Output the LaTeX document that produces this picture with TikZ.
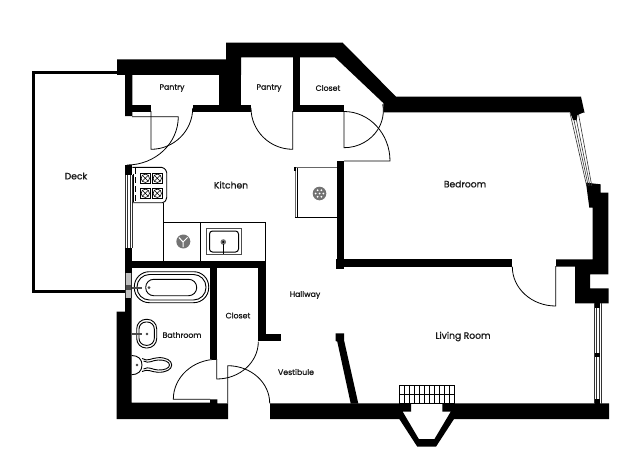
\documentclass[tikz,border=0pt]{standalone}
\usepackage{fontspec}
\setmainfont{Poppins}[FakeBold=1]
\tikzset{
  wall/.style={fill=black,draw=none},
  door/.style={draw=black,line width=0.8pt},
  fixture/.style={draw=black,line width=0.9pt},
  pane/.style={draw=black!80,line width=0.6pt},
  room/.style={font=\fontsize{9.2}{10}\selectfont,inner sep=0pt,text=black!90},
  smallroom/.style={font=\fontsize{7.8}{9}\selectfont,inner sep=0pt,text=black!90},
}
\begin{document}
\begin{tikzpicture}[x=1pt,y=-1pt]
\useasboundingbox (0,0) rectangle (640,460);
\fill[white] (0,0) rectangle (640,460);
% Deck
\draw[line width=3pt,line join=miter] (120,72.7) -- (33,72.7) -- (33,291.8) -- (126,291.8);
% Walls
\fill[wall] (117,59.5) -- (226,59.5) -- (226,42.7) -- (342.7,42.7) -- (396,96.7) -- (581,96.7) -- (584.5,112.5) -- (383.3,112.3) -- (383.3,103) -- (335,57.3) -- (241,57.3) -- (241,75) -- (132.3,75) -- (132.3,116) -- (125,116) -- (125,75) -- (117,75) -- cycle;
\fill[wall] (218.7,75) rectangle (241,111.7);
\fill[wall] (125,104.7) rectangle (151,111.7);
\fill[wall] (192.7,104.7) rectangle (251,111.7);
\fill[wall] (293.3,57.3) rectangle (300.3,111.7);
\fill[wall] (293.3,104.7) rectangle (344,111.7);
\fill[wall] (125,165) rectangle (131.7,175);
\fill[wall] (336.7,161) rectangle (344,269.3);
\fill[wall] (336,259.3) rectangle (512.3,266.7);
\fill[wall] (336,262) rectangle (344,269.3);
\fill[wall] (586,182.7) -- (600.7,184.3) -- (600.7,192.7) -- (608.3,192.7) -- (608.3,274.3) -- (590,274.3) -- (590,288.3) -- (608.7,288.3) -- (608.7,303.3) -- (575,303.3) -- (575,266.7) -- (556,266.7) -- (556,259.3) -- (592.7,259.3) -- (592.7,207.7) -- (589.3,207.7) -- cycle;
\fill[wall] (125,248) rectangle (131.7,273.3);
\fill[wall] (125,260.7) rectangle (265.7,267.7);
\fill[wall] (258.3,260.7) rectangle (265.7,340.7);
\fill[wall] (258.3,334.3) rectangle (281,340.7);
\fill[wall] (210,267) rectangle (217.3,359.3);
\fill[wall] (125,298) -- (131.7,298) -- (131.7,402.7) -- (210,402.7) -- (210,399.3) -- (217.3,399.3) -- (217.3,403.3) -- (228,403.3) -- (228,419) -- (116.7,419) -- (116.7,311.7) -- (125,311.7) -- cycle;
\fill[wall] (270,403.3) -- (411,403.3) -- (411,411.7) -- (402.7,411.7) -- (418.8,439) -- (434.5,439) -- (450.7,411.7) -- (442.3,411.7) -- (442.3,403.3) -- (609,403.3) -- (609,419) -- (454,419) -- (436,446.7) -- (417.3,446.7) -- (399.3,419) -- (270,419) -- cycle;
\fill[wall] (335.7,333.3) -- (344,333.3) -- (344,340) -- (358.3,403.5) -- (350.7,403.5) -- (337.3,341.7) -- (335.7,341) -- cycle;
% Windows
\foreach \t/\b in {570/586.7,572.4/588.3,575/590,578.3/591.8}
  \draw[pane] (\t,113) -- (\b,186);
\fill[wall] (570,112) -- (584.5,112) -- (577.5,115) -- (576.5,120) -- (573,120) -- cycle;
\foreach \x in {594,596,599.5,601.7}
  \draw[pane] (\x,303) -- (\x,403.5);
\fill[wall] (595,303) rectangle (600,307.7);
\fill[wall] (595,353.3) rectangle (600,357.3);
\fill[wall] (595,399) rectangle (600,403.5);
\foreach \x in {125.4,127.6,130,131.8}
  \draw[pane] (\x,175) -- (\x,248);
\fill[black!25] (125,273.3) rectangle (131.7,298);
\draw[draw=black!85,line width=0.8pt] (125.4,273.3) -- (125.4,298) (131.3,273.3) -- (131.3,298);
\fill[black!70] (126,285) rectangle (131,290);
% Doors
\draw[door] (132,116.7) -- (178.3,116.7) arc[start angle=0,end angle=90,x radius=51.3,y radius=48.3];
\draw[door] (151,111) -- (151,149.3) arc[start angle=90,end angle=0,x radius=41.7,y radius=41.3];
\draw[door] (292.8,111) -- (292.8,149.3) arc[start angle=90,end angle=180,x radius=41.8,y radius=41.3];
\draw[door] (344,111) -- (344,147.7) arc[start angle=90,end angle=-10,x radius=39.3,y radius=37];
\draw[door] (344,161) -- (390,161) arc[start angle=0,end angle=-90,x radius=46,y radius=49.5];
\draw[door] (555.7,266) -- (555.7,306) arc[start angle=90,end angle=180,x radius=43.4,y radius=39.3];
\draw[door] (210,399.3) -- (173.3,399.3) arc[start angle=180,end angle=270,x radius=43.7,y radius=40];
\draw[door] (216.7,359) -- (216.7,379) arc[start angle=90,end angle=0,x radius=41.6,y radius=37.3];
\draw[door] (227.7,403.3) -- (227.7,365.7) arc[start angle=-90,end angle=0,x radius=42,y radius=37.6];
% Counter
\draw[fixture] (163.7,202.7) -- (163.7,260.7) (163.7,222.7) -- (265.3,222.7) -- (265.3,260.7) (200.5,222.7) -- (200.5,260.7);
% Stove
\draw[fixture,rounded corners=1.5pt] (132.3,167.3) -- (163,167.3) -- (166.7,171) -- (166.7,199) -- (164,202.7) -- (132.3,202.7);
\draw[line width=1pt,dash pattern=on 6pt off 3pt] (135.3,168) -- (135.3,202);
\draw[line width=0.7pt] (133,173.5) -- (133,202);
\foreach \cx in {145.3,157.3}
  \foreach \cy in {178.3,193.3} {
    \draw[line width=0.6pt] (\cx-5.2,\cy-5.2) rectangle (\cx+5.2,\cy+5.2);
    \draw[line width=0.6pt] (\cx,\cy) circle[radius=4.2];
    \draw[line width=0.5pt] (\cx-3,\cy-3) -- (\cx+3,\cy+3) (\cx-3,\cy+3) -- (\cx+3,\cy-3);
  }
% Disposal circle and sink
\fill[black!55] (183.3,241.5) circle[radius=7];
\draw[white,line width=1pt] (179,237.5) -- (183,242) -- (187.5,237.5) (183,242) -- (183,247);
\draw[black!70,line width=1pt] (206.7,228.3) rectangle (241.3,254.7);
\draw[fixture,rounded corners=3pt,line width=1pt] (209.5,231) rectangle (238.5,252);
\fill[black!55] (223.3,242) circle[radius=2.8];
\fill[black] (223.3,242) circle[radius=1.1];
\draw[line width=1.2pt] (223.3,244) -- (223.3,254);
% Fridge
\draw[draw=black!60,line width=1pt] (295.3,167.3) -- (336.7,167.3);
\draw[black,line width=0.8pt] (295,217.3) -- (336.7,217.3);
\draw[draw=black!60,line width=1.4pt] (295.3,167.3) -- (295.3,217.3);
\draw[line width=0.6pt] (297,168) -- (297,217);
\fill[black] (294,166.5) rectangle (295.5,171);
\fill[black!55] (319.5,193.5) circle[radius=6.8];
\foreach \a in {0,60,...,300}
  \fill[white] (319.5,193.5) ++(\a:3.8) circle[radius=1];
\fill[white] (319.5,193.5) circle[radius=1];
% Tub
\draw[fixture,rounded corners=15pt] (134.3,271.7) rectangle (208.7,302.7);
\draw[fixture,rounded corners=12.5pt] (137,274.5) rectangle (206,300);
\draw[fixture,rounded corners=8pt] (145.7,279.3) rectangle (196.7,295.7);
\fill[black!75] (149,287.7) circle[radius=1.5];
\draw[black!70,line width=2.2pt] (132,287.7) -- (142,287.7);
% Basin
\draw[fixture,rounded corners=9.5pt] (136.7,319.3) rectangle (156.7,348);
\draw[fixture,rounded corners=7pt] (139,322) rectangle (154.3,345.3);
\fill[black!75] (147,334) circle[radius=1.3];
\draw[black!70,line width=2pt] (132,334) -- (142,334);
% Toilet
\draw[fixture] (131.7,355.5) .. controls (138,355.5) and (142,359) .. (142,365) .. controls (142,371) and (138,374.7) .. (131.7,374.7);
\fill[black!75] (137,365) circle[radius=1.3];
\draw[fixture] (142,358.5) .. controls (148,362) and (151,358) .. (158,357.7) .. controls (166,357.2) and (171.7,360.5) .. (171.7,365) .. controls (171.7,369.5) and (166,372.5) .. (158,372.3) .. controls (151,372) and (148,368.5) .. (142,371.5);
\draw[fixture] (143.5,361) .. controls (149,364) and (152,360.3) .. (158,360) .. controls (165,359.7) and (169.5,362) .. (169.5,365) .. controls (169.5,368) and (165,370.3) .. (158,370) .. controls (152,369.7) and (149,366) .. (143.5,369);
% Stair grid
\draw[line width=0.6pt] (399.3,385.3) rectangle (454,403.3);
\draw[line width=0.6pt] (399.3,394) -- (454,394);
\foreach \i in {1,...,10}
  \draw[line width=0.6pt] (399.3+\i*4.97,385.3) -- (399.3+\i*4.97,403.3);
% Labels
\node[smallroom] (pantryone) at (172,88) {Pantry};
\node[smallroom] (pantrytwo) at (269,88) {Pantry};
\node[smallroom] (closetone) at (328,88) {Closet};
\node[room] (deck) at (76,176) {Deck};
\node[room] (kitchen) at (231,185) {Kitchen};
\node[room] (bedroom) at (465,184) {Bedroom};
\node[smallroom] (hallway) at (305,295) {Hallway};
\node[smallroom] (closettwo) at (238,315.5) {Closet};
\node[smallroom] (bathroom) at (182,335) {Bathroom};
\node[room] (living) at (463,336.5) {Living Room};
\node[smallroom] (vestibule) at (296,372) {Vestibule};
\end{tikzpicture}
\end{document}
